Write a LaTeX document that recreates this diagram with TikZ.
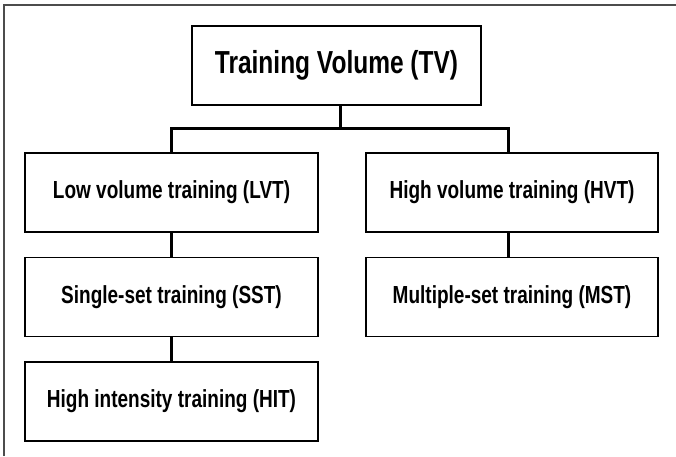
\documentclass[tikz,border=0pt]{standalone}
\usepackage{fontspec}
\setmainfont{Liberation Sans}
\usepackage{graphicx}
\usepackage{tikz}
\usetikzlibrary{positioning, calc}
\definecolor{framegray}{rgb}{0.3, 0.3, 0.3}
\newcommand{\tallword}[1]{\scalebox{1}[1.3]{#1}}
\tikzstyle{topbox} = [rectangle, minimum width=289pt, minimum height=79pt, inner sep=0pt, text centered, draw=black, line width=1.5pt, font=\fontsize{24.5}{28}\selectfont\bfseries]
\tikzstyle{levelbox} = [rectangle, minimum width=293pt, minimum height=79pt, inner sep=0pt, text centered, draw=black, line width=1.5pt, font=\fontsize{19}{23}\selectfont\bfseries]
\tikzstyle{conn} = [line width=3pt]

\begin{document}
\begin{tikzpicture}[x=1pt, y=1pt, node distance=24pt]
    \useasboundingbox (0,0) rectangle (676,-456);
    % outer frame (left and top only)
    \draw [framegray, line width=1.5pt] (4,-456) -- (4,-5) -- (676,-5);

    \node (tv) [topbox] at (336.5,-65.5) {\tallword{Training Volume (TV)}};
    \node (lvt) [levelbox] at (171.5,-192.5) {\tallword{Low volume training (LVT)}};
    \node (hvt) [levelbox, minimum width=292pt] at (512,-192.5) {\tallword{High volume training (HVT)}};
    \node (sst) [levelbox, below=of lvt] {\tallword{Single-set training (SST)}};
    \node (hit) [levelbox, below=of sst] {\tallword{High intensity training (HIT)}};
    \node (mst) [levelbox, minimum width=292pt, below=of hvt] {\tallword{Multiple-set training (MST)}};

    \coordinate (fork) at ($(tv.south)+(4,-23)$);
    \coordinate (rstem) at ($(hvt.north)+(-4,0)$);
    \draw [conn] (tv.south -| fork) -- (fork);
    \draw [conn] (fork) -| (lvt.north);
    \draw [conn] (fork) -| (rstem);
    \draw [conn] (lvt) -- (sst);
    \draw [conn] (sst) -- (hit);
    \draw [conn] (hvt.south -| rstem) -- (mst.north -| rstem);
\end{tikzpicture}
\end{document}
